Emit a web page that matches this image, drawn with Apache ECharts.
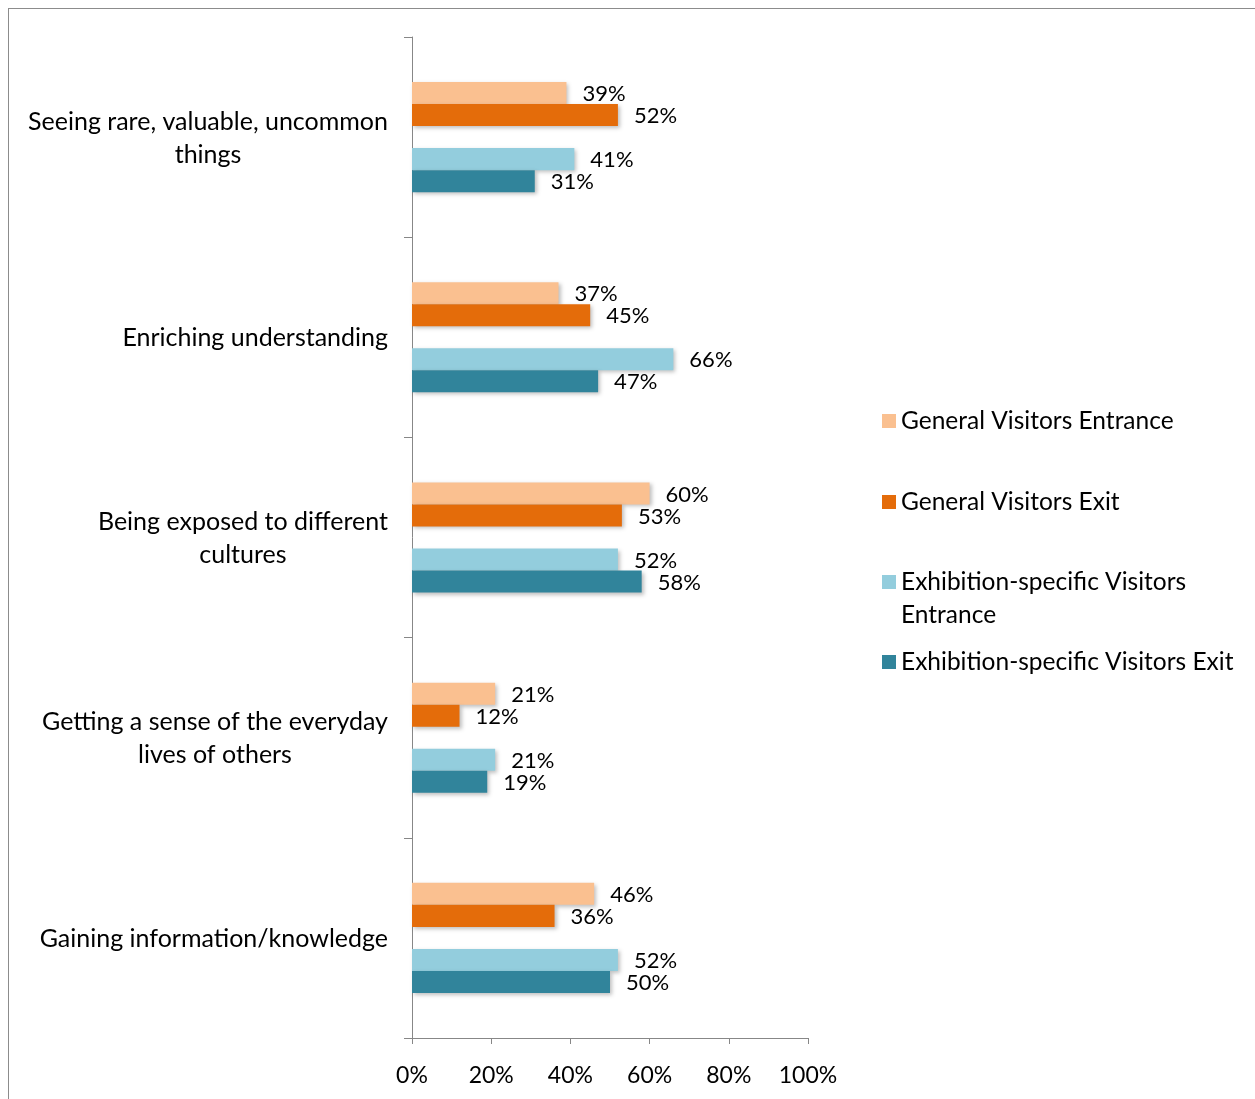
<!DOCTYPE html>
<html>
<head>
<meta charset="utf-8">
<script src="https://cdn.jsdelivr.net/npm/echarts@6/dist/echarts.min.js"></script>
<style>
html,body{margin:0;padding:0;background:#fff;}
#wrap{position:relative;width:1255px;height:1099px;}
#frame{position:absolute;left:8px;top:8px;right:-2px;bottom:-2px;border-left:1px solid #8c8c8c;border-top:1px solid #8c8c8c;}
#chart{position:absolute;left:0;top:0;width:1255px;height:1099px;}
</style>
</head>
<body>
<div id="wrap"><div id="frame"></div><div id="chart"></div></div>
<script>
var categories = [
  'Seeing rare, valuable, uncommon\nthings',
  'Enriching understanding',
  'Being exposed to different\ncultures',
  'Getting a sense of the everyday\nlives of others',
  'Gaining information/knowledge'
];
var seriesNames = [
  'General Visitors Entrance',
  'General Visitors Exit',
  'Exhibition-specific Visitors Entrance',
  'Exhibition-specific Visitors Exit'
];
var generalEntrance = [39, 37, 60, 21, 46];
var generalExit = [52, 45, 53, 12, 36];
var exhibitionEntrance = [41, 66, 52, 21, 52];
var exhibitionExit = [31, 47, 58, 19, 50];
var xTicks = [0, 20, 40, 60, 80, 100];

var colors = ['#FAC090', '#E46C0A', '#93CDDD', '#31849B'];
var FONT = 'Lato';

function barSeries(name, data, color) {
  return {
    name: name, type: 'bar', data: data, barGap: 0, barCategoryGap: '45%',
    itemStyle: { color: color, shadowColor: 'rgba(0,0,0,0.25)', shadowBlur: 4, shadowOffsetX: 2, shadowOffsetY: 2 },
    label: { show: true, position: 'right', distance: 16, offset: [0, 1], formatter: '{c}%', color: '#000', fontFamily: FONT, fontSize: 22 },
    emphasis: { disabled: true },
    animation: false
  };
}

var chart = echarts.init(document.getElementById('chart'));
var legendTops = [404.5, 485.5, 532.5, 645.5];
var legends = seriesNames.map(function (n, i) {
  return {
    data: [n], left: 882, top: legendTops[i], orient: 'vertical', padding: 0,
    itemWidth: 14, itemHeight: 14, itemGap: 0, icon: 'rect',
    selectedMode: false,
    formatter: i === 2 ? ' \nExhibition-specific Visitors\nEntrance' : '{name}',
    textStyle: { fontFamily: FONT, fontSize: 24.5, color: '#000', lineHeight: 33 }
  };
});

chart.setOption({
  animation: false,
  grid: { left: 412, right: 447, top: 37, bottom: 61, containLabel: false },
  legend: legends,
  xAxis: {
    type: 'value', min: 0, max: 100, interval: 20,
    axisLine: { show: true, lineStyle: { color: '#878787', width: 1 } },
    axisTick: { show: true, length: 6, lineStyle: { color: '#878787' } },
    splitLine: { show: false },
    axisLabel: { formatter: function (v) { return xTicks.indexOf(v) >= 0 ? v + '%' : ''; }, margin: 26, color: '#000', fontFamily: FONT, fontSize: 23 }
  },
  yAxis: {
    type: 'category', data: categories, inverse: true,
    axisLine: { show: true, lineStyle: { color: '#878787', width: 1 } },
    axisTick: { show: true, length: 8, lineStyle: { color: '#878787' } },
    axisLabel: {
      margin: 24, color: '#000', fontFamily: FONT, fontSize: 25, lineHeight: 33,
      formatter: function (v) { return v.split('\n').map(function (s) { return '{c|' + s + '}'; }).join('\n'); },
      rich: { c: { align: 'center', fontFamily: FONT, fontSize: 25, lineHeight: 33, color: '#000', padding: [2, 0, 0, 0] } }
    }
  },
  series: [
    barSeries(seriesNames[0], generalEntrance, colors[0]),
    barSeries(seriesNames[1], generalExit, colors[1]),
    { name: '_gap', type: 'bar', data: [null, null, null, null, null], barGap: 0, silent: true },
    barSeries(seriesNames[2], exhibitionEntrance, colors[2]),
    barSeries(seriesNames[3], exhibitionExit, colors[3])
  ]
});
</script>
</body>
</html>
